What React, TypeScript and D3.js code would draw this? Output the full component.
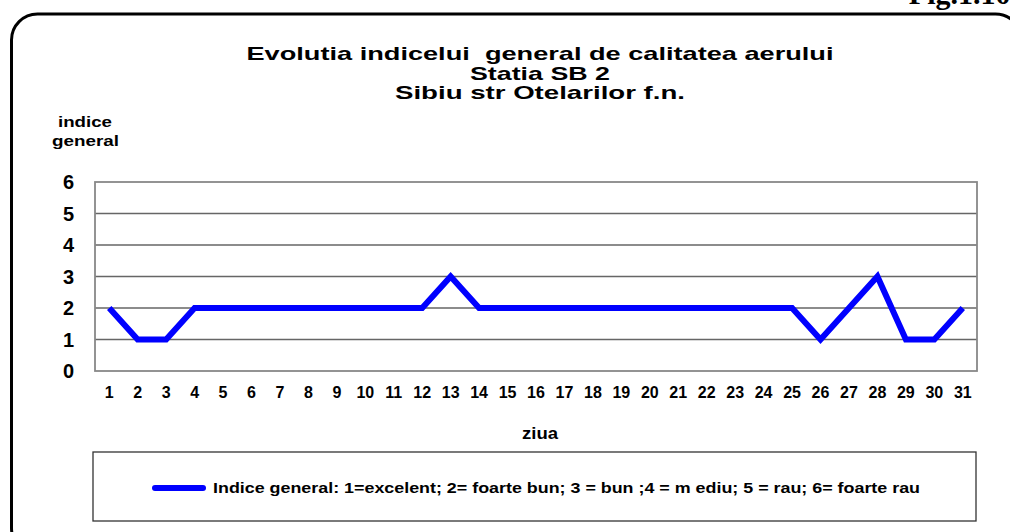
import * as d3 from 'd3';

const days = d3.range(1, 32).map(String);
const indexValues = [2, 1, 1, 2, 2, 2, 2, 2, 2, 2, 2, 2, 3, 2, 2, 2, 2, 2, 2, 2, 2, 2, 2, 2, 2, 1, 2, 3, 1, 1, 2];
const yTicks = [0, 1, 2, 3, 4, 5, 6];
const titleLines = ['Evolutia indicelui  general de calitatea aerului', 'Statia SB 2', 'Sibiu str Otelarilor f.n.'];
const titleWidths = [587, 140, 290];
const legendLabel = 'Indice general: 1=excelent; 2= foarte bun; 3 = bun ;4 = m ediu; 5 = rau; 6= foarte rau';

const W = 1010;
const H = 532;
const plot = { left: 95, right: 977, top: 182, bottom: 371 };
const font = '"Liberation Sans", Arial, sans-serif';

export default function App() {
  const x = d3.scaleBand<string>().domain(days).range([plot.left, plot.right]);
  const y = d3.scaleLinear().domain([0, 6]).range([plot.bottom, plot.top]);

  const line = d3
    .line<number>()
    .x((_, i) => (x(days[i]) ?? 0) + x.bandwidth() / 2)
    .y((d) => y(d));

  return (
    <div style={{ position: 'absolute', left: 0, top: 0 }}>
      <svg width={W} height={H} style={{ display: 'block', fontFamily: font }}>
        <rect width={W} height={H} fill="#fff" />
        {/* figure caption, cut at the top edge */}
        <text x={1018} y={4} textAnchor="end" fontFamily='"Liberation Serif", "Times New Roman", serif' fontWeight="bold" fontSize={30} fill="#000">
          Fig.1.10.
        </text>
        {/* outer rounded frame */}
        <rect x={11.5} y={14} width={1010} height={540} rx={26} fill="none" stroke="#000" strokeWidth={3} />

        {titleLines.map((t, i) => (
          <text
            key={t}
            x={540}
            y={60 + i * 19.5}
            textAnchor="middle"
            fontWeight="bold"
            fontSize={18.5}
            textLength={titleWidths[i]}
            lengthAdjust="spacingAndGlyphs"
            style={{ whiteSpace: 'pre' }}
          >
            {t}
          </text>
        ))}

        <text x={85} y={127} textAnchor="middle" fontWeight="bold" fontSize={15.5} textLength={54} lengthAdjust="spacingAndGlyphs">indice</text>
        <text x={85.5} y={146} textAnchor="middle" fontWeight="bold" fontSize={15.5} textLength={67} lengthAdjust="spacingAndGlyphs">general</text>

        {/* gridlines */}
        {yTicks.slice(1, -1).map((t) => (
          <line key={t} x1={plot.left} x2={plot.right} y1={y(t)} y2={y(t)} stroke="#666" strokeWidth={1.3} />
        ))}
        <rect
          x={plot.left}
          y={plot.top}
          width={plot.right - plot.left}
          height={plot.bottom - plot.top}
          fill="none"
          stroke="#888"
          strokeWidth={1.8}
        />

        {yTicks.map((t) => (
          <text key={t} x={74} y={y(t)} dy="0.36em" textAnchor="end" fontWeight="bold" fontSize={20}>
            {t}
          </text>
        ))}
        {days.map((d) => (
          <text key={d} x={(x(d) ?? 0) + x.bandwidth() / 2} y={392.5} dy="0.36em" textAnchor="middle" fontWeight="bold" fontSize={16}>
            {d}
          </text>
        ))}

        <path d={line(indexValues) ?? ''} fill="none" stroke="#0000ff" strokeWidth={6} strokeLinejoin="miter" strokeLinecap="butt" />

        <text x={540} y={439} textAnchor="middle" fontWeight="bold" fontSize={16} textLength={36} lengthAdjust="spacingAndGlyphs">ziua</text>

        {/* legend */}
        <rect x={93} y={452} width={883} height={69} fill="#fff" stroke="#333" strokeWidth={1.3} />
        <line x1={155} x2={203} y1={488} y2={488} stroke="#0000ff" strokeWidth={6} strokeLinecap="round" />
        <text x={213} y={488} dy="0.36em" fontWeight="bold" fontSize={14.5} textLength={707} lengthAdjust="spacingAndGlyphs" style={{ whiteSpace: 'pre' }}>
          {legendLabel}
        </text>
      </svg>
    </div>
  );
}
